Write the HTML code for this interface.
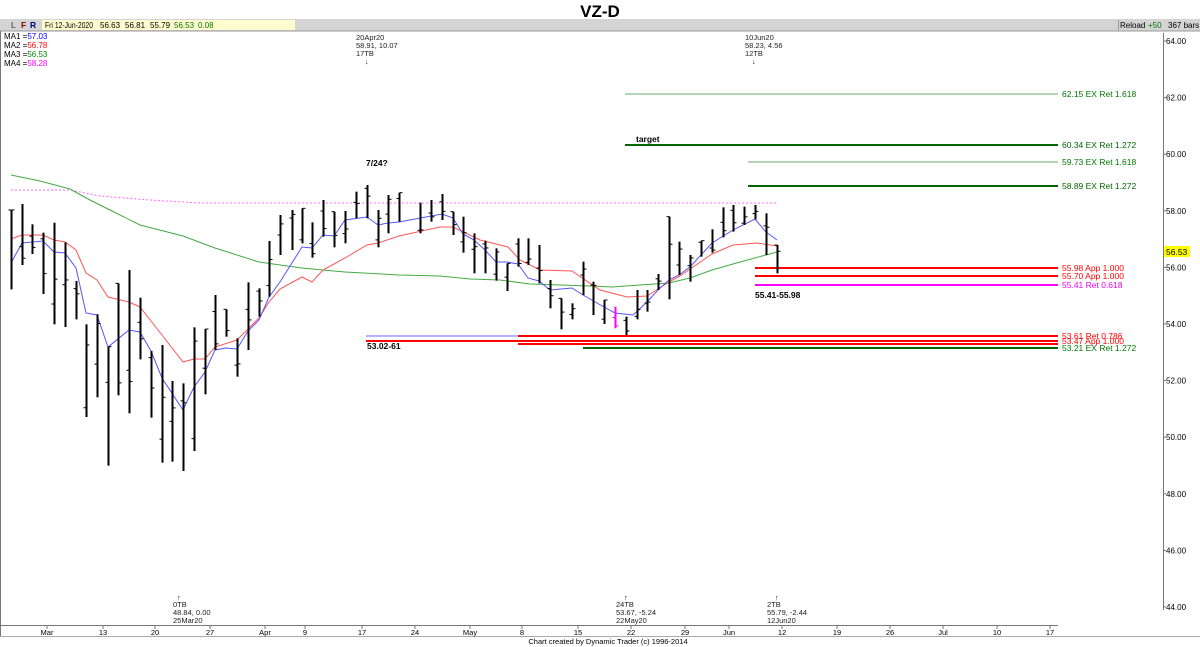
<!DOCTYPE html>
<html><head><meta charset="utf-8"><style>
body{margin:0;width:1200px;height:647px;overflow:hidden;background:#fff;font-family:"Liberation Sans",sans-serif}
svg{display:block}
text{font-family:"Liberation Sans",sans-serif}
</style></head><body>
<svg id="s" width="1200" height="647" viewBox="0 0 1200 647">
<rect x="0" y="0" width="1200" height="647" fill="#fff"/>
<text x="600" y="17" font-size="17" font-weight="bold" text-anchor="middle">VZ-D</text>
<rect x="0" y="19" width="1200" height="12" fill="#d4d4d4"/>
<line x1="0" y1="31" x2="1200" y2="31" stroke="#999"/>
<rect x="42" y="20" width="253" height="10" fill="#fffdd0"/>
<text x="11" y="28" font-size="8.5" fill="#333">L</text><text x="21" y="28" font-size="8.5" fill="#800" font-weight="bold">F</text><text x="30" y="28" font-size="8.5" fill="#008" font-weight="bold">R</text>
<text x="45" y="28" font-size="8" textLength="48" lengthAdjust="spacingAndGlyphs">Fri 12-Jun-2020</text>
<text x="100" y="28" font-size="8">56.63</text>
<text x="125" y="28" font-size="8">56.81</text>
<text x="150" y="28" font-size="8">55.79</text>
<text x="174" y="28" font-size="8" fill="#070">56.53</text>
<text x="198" y="28" font-size="8" fill="#070">0.08</text>
<rect x="1118" y="20" width="1" height="10" fill="#999"/>
<text x="1120" y="28" font-size="8">Reload</text><text x="1148" y="28" font-size="8" fill="#070">+50</text><text x="1168" y="28" font-size="8">367 bars</text>
<line x1="0.5" y1="31" x2="0.5" y2="636" stroke="#777"/>
<text x="4" y="39" font-size="8">MA1 =<tspan fill="#00f">57.03</tspan></text>
<text x="4" y="48" font-size="8">MA2 =<tspan fill="#f00">56.78</tspan></text>
<text x="4" y="57" font-size="8">MA3 =<tspan fill="#080">56.53</tspan></text>
<text x="4" y="66" font-size="8">MA4 =<tspan fill="#f0f">58.28</tspan></text>
<g font-size="7.5" fill="#222">
<text x="356" y="40">20Apr20</text><text x="356" y="48">58.91, 10.07</text><text x="356" y="56">17TB</text><text x="365" y="64">↓</text>
<text x="745" y="40">10Jun20</text><text x="745" y="48">58.23, 4.56</text><text x="745" y="56">12TB</text><text x="752" y="64">↓</text>
<text x="177" y="600">↑</text><text x="173" y="607">0TB</text><text x="173" y="615">48.84, 0.00</text><text x="173" y="623">25Mar20</text>
<text x="624" y="600">↑</text><text x="616" y="607">24TB</text><text x="616" y="615">53.67, -5.24</text><text x="616" y="623">22May20</text>
<text x="775" y="600">↑</text><text x="767" y="607">2TB</text><text x="767" y="615">55.79, -2.44</text><text x="767" y="623">12Jun20</text>
</g>
<text x="366" y="166" font-size="8.5" font-weight="bold">7/24?</text>
<g id="lv"></g>
<g id="ma"></g>
<g id="bars"></g>
<g id="ax"></g>
<text x="608" y="644" font-size="7.5" text-anchor="middle">Chart created by Dynamic Trader  (c) 1996-2014</text>
</svg>
<script>
var NS="http://www.w3.org/2000/svg";
function el(p,t,a,txt){var e=document.createElementNS(NS,t);for(var k in a)e.setAttribute(k,a[k]);if(txt!==undefined)e.textContent=txt;document.getElementById(p).appendChild(e);return e;}
var L=[[625,1058,94,"#6a6",1,"62.15 EX Ret 1.618","#070"],[625,1058,145,"#060",2,"60.34 EX Ret 1.272","#060"],[748,1058,162,"#6a6",1,"59.73 EX Ret 1.618","#070"],[748,1058,186,"#060",2,"58.89 EX Ret 1.272","#060"],
[755,1058,268,"#f00",2,"55.98 App 1.000","#f00"],[755,1058,276,"#f00",2,"55.70 App 1.000","#f00"],[755,1058,285,"#f0f",2,"55.41 Ret 0.618","#e0e"],
[518,1058,336,"#f00",2,"53.61 Ret 0.786","#f00"],[366,1058,341,"#f00",2,"53.47 App 1.000","#f00"],[518,1058,344,"#f00",2,"",""],[583,1058,348,"#060",2,"53.21 EX Ret 1.272","#070"]];
L.forEach(function(l){el("lv","line",{x1:l[0],x2:l[1],y1:l[2],y2:l[2],stroke:l[3],"stroke-width":l[4]});if(l[5])el("lv","text",{x:1062,y:l[2]+3,"font-size":"8.5",fill:l[6]},l[5]);});
el("lv","line",{x1:366,x2:518,y1:336,y2:336,stroke:"#66f","stroke-width":1});
el("lv","text",{x:636,y:142,"font-size":"8.5","font-weight":"bold"},"target");
el("lv","text",{x:755,y:298,"font-size":"8.5","font-weight":"bold"},"55.41-55.98");
el("lv","text",{x:367,y:349,"font-size":"8.5","font-weight":"bold"},"53.02-61");
function pl(pts,c,extra){var a={points:pts,fill:"none",stroke:c,"stroke-width":1};for(var k in extra)a[k]=extra[k];el("ma","polyline",a);}
pl("11,190 70,190 100,196 150,200 200,203 300,203 400,203 580,203 777,203","#f6f",{"stroke-dasharray":"2,2"});
pl("11,175 40,181 70,189 90,200 110,210 140,225 183,236 215,248 259,262 280,265 302,268 323,270 345,272 399,275 440,276 470,279 500,280 530,284 560,285 590,286 612,287 640,285 669,283 690,278 712,270 740,262 777,252","#4a4");
pl("11,239 22,235 43,235 54,240 65,242 76,250 86,273 97,280 108,297 129,302 140,307 162,335 183,362 194,359 205,359 215,347 237,340 259,318 269,302 280,289 302,277 312,282 323,270 345,258 367,245 378,243 399,236 440,227 453,227 480,240 508,247 520,260 540,270 572,271 600,290 627,297 647,296 669,282 680,276 712,254 733,245 757,243 777,246","#f55");
pl("11,263 22,243 43,241 54,252 65,253 76,268 86,313 97,315 108,347 129,330 140,332 151,351 162,378 183,410 194,387 205,372 215,350 226,348 237,349 248,331 259,320 269,297 280,282 302,247 312,248 323,235 334,236 345,220 367,217 378,225 388,223 399,222 442,214 453,218 463,234 474,240 485,250 496,262 507,262 518,264 528,278 539,281 550,290 572,288 583,295 604,307 615,313 633,315 647,302 658,290 669,280 679,275 690,267 712,243 733,230 755,219 766,232 777,240","#55f");
var A=[[33,120,358],[66,102,285],[97,163,252],[128,188,372],[162,158,463],[194,217,471],[228,333,448],[258,463,741],[290,433,682],[323,530,887],[355,340,676],[388,300,730],[420,383,568],[452,543,743],[485,525,878],[517,633,875],[550,640,903],[582,472,843],[614,477,673],[646,375,540],[679,418,500],[712,505,620],[745,337,540],[777,355,440],[808,213,380],[840,135,255],[876,120,240],[906,115,220],[937,157,263],[970,90,200],[1002,125,232],[1035,123,220],[1068,65,145],[1100,45,145],[1133,120,232],[1165,75,190],[1197,68,155]];
var B=[[60,68,160],[93,60,125],[125,42,120],[158,95,165],[190,110,218],[222,160,280],[255,182,280],[288,205,302],[320,250,333],[355,175,260],[385,175,255],[418,195,310],[450,300,385],[483,355,448],[515,370,418],[548,245,345],[580,305,405],[612,360,432],[645,380,445],[678,410,465],[710,330,418],[742,330,395],[775,282,330],[808,110,358],[838,185,285],[870,225,305],[903,182,230],[935,148,218],[968,82,172],[1000,75,155],[1033,80,135],[1065,75,118],[1098,100,225],[1130,195,280]];
var bars=[];A.forEach(function(b){bars.push([b[0]/3,170+b[1]/3,170+b[2]/3]);});
B.forEach(function(b){bars.push([400+b[0]/3,180+b[1]/3,180+b[2]/3]);});
bars.forEach(function(b,i){var x=Math.round(b[0])+.5,h=b[1],l=b[2],c=(i==bars.length-16?"#f0f":"#000");
var o=h+(l-h)*((i*37%10)/10),cl=h+(l-h)*((i*53%9)/9);
el("bars","line",{x1:x,x2:x,y1:h,y2:l,stroke:c,"stroke-width":2});
el("bars","line",{x1:x-3,x2:x,y1:o,y2:o,stroke:c,"stroke-width":1});
el("bars","line",{x1:x,x2:x+3,y1:cl,y2:cl,stroke:c,"stroke-width":1});});
el("ax","line",{x1:1163.5,x2:1163.5,y1:33,y2:610,stroke:"#777"});
for(var p=64;p>=44;p-=2){var y=41+(64-p)*28.3;el("ax","line",{x1:1163,x2:1166,y1:y,y2:y,stroke:"#777"});el("ax","text",{x:1166,y:y+3,"font-size":"8"},p.toFixed(2));}
el("ax","rect",{x:1164,y:246,width:26,height:11,fill:"#ff0"});el("ax","text",{x:1166,y:255,"font-size":"8.5"},"56.53");
el("ax","line",{x1:0,x2:1058,y1:625.5,y2:625.5,stroke:"#777"});
el("ax","line",{x1:0,x2:1200,y1:636.5,y2:636.5,stroke:"#aaa"});
var X=[[47,"Mar"],[103,"13"],[155,"20"],[210,"27"],[265,"Apr"],[305,"9"],[362,"17"],[415,"24"],[470,"May"],[522,"8"],[578,"15"],[631,"22"],[685,"29"],[729,"Jun"],[782,"12"],[837,"19"],[890,"26"],[943,"Jul"],[997,"10"],[1050,"17"]];
X.forEach(function(t){el("ax","line",{x1:t[0],x2:t[0],y1:626,y2:629,stroke:"#777"});el("ax","text",{x:t[0],y:635,"font-size":"7.5","text-anchor":"middle"},t[1]);});
</script>
</body></html>
